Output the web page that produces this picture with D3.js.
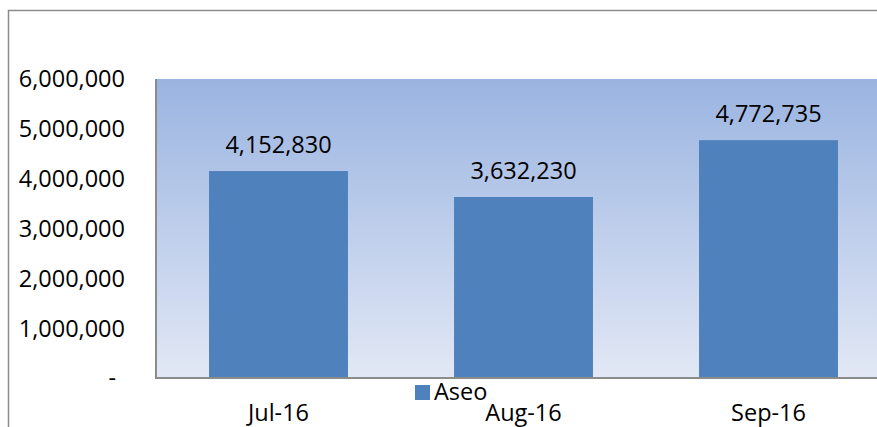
<!DOCTYPE html>
<html>
<head>
<meta charset="utf-8">
<script src="https://cdn.jsdelivr.net/npm/d3@7"></script>
<style>
  html,body{margin:0;padding:0;background:#fff;overflow:hidden;width:877px;height:427px}
  svg{display:block;position:absolute;left:0;top:0}
  text{font-family:"Open Sans",sans-serif;fill:#000}
</style>
</head>
<body>
<script>
// data
const months = ['Jul-16','Aug-16','Sep-16'];
const aseo   = [4152830, 3632230, 4772735];
const yTicks = [0,1000000,2000000,3000000,4000000,5000000,6000000];
const seriesName = 'Aseo';

const W=877, H=427;
const plot={l:156, t:79, r:891, b:378};
const fmt=d3.format(',');

const svg=d3.select('body').append('svg').attr('width',W).attr('height',H);

// gradient fill of the plot area
const grad=svg.append('defs').append('linearGradient')
  .attr('id','bg').attr('gradientUnits','userSpaceOnUse')
  .attr('x1',0).attr('y1',plot.t).attr('x2',0).attr('y2',plot.b);
grad.append('stop').attr('offset','0%').attr('stop-color','#9ab4e1');
grad.append('stop').attr('offset','100%').attr('stop-color','#e2e8f5');

// outer chart frame: only top and left edges are visible (cropped picture)
svg.append('path').attr('d',`M${W},10.5H8.5V${H}`)
  .attr('fill','none').attr('stroke','#8c8c8c').attr('stroke-width',1.5);

const x=d3.scaleBand().domain(months).range([plot.l,plot.r])
  .paddingInner(0.433).paddingOuter(0.2165);
const y=d3.scaleLinear().domain([0,6000000]).range([plot.b,plot.t]);

svg.append('rect').attr('x',plot.l).attr('y',plot.t)
  .attr('width',W-plot.l).attr('height',plot.b-plot.t).attr('fill','url(#bg)');

// bars
svg.selectAll('rect.bar').data(aseo).join('rect').attr('class','bar')
  .attr('x',(d,i)=>x(months[i])).attr('y',d=>y(d))
  .attr('width',x.bandwidth()).attr('height',d=>y(0)-y(d))
  .attr('fill','#4f81bd');

// value labels
svg.selectAll('text.val').data(aseo).join('text').attr('class','val')
  .attr('x',(d,i)=>x(months[i])+x.bandwidth()/2).attr('y',d=>y(d)-18)
  .attr('text-anchor','middle').attr('font-size','23.5px').text(d=>fmt(d));

// axes lines
svg.append('line').attr('x1',plot.l).attr('x2',plot.l).attr('y1',plot.t).attr('y2',plot.b+1)
  .attr('stroke','#8c8c8c').attr('stroke-width',2);
svg.append('line').attr('x1',plot.l-1).attr('x2',W).attr('y1',plot.b).attr('y2',plot.b)
  .attr('stroke','#8c8c8c').attr('stroke-width',2);

// y tick labels
svg.selectAll('text.yt').data(yTicks).join('text').attr('class','yt')
  .attr('x',d=>d===0?116:125).attr('y',d=>y(d)).attr('dy','0.36em')
  .attr('text-anchor','end').attr('font-size','23.5px')
  .text(d=>d===0?'-':fmt(d));

// x tick labels
svg.selectAll('text.xt').data(months).join('text').attr('class','xt')
  .attr('x',d=>x(d)+x.bandwidth()/2).attr('y',421)
  .attr('text-anchor','middle').attr('font-size','23.5px').text(d=>d);

// legend
svg.append('rect').attr('x',415).attr('y',385).attr('width',15).attr('height',15).attr('fill','#4f81bd');
svg.append('text').attr('x',434).attr('y',400).attr('font-size','23.5px').text(seriesName);
</script>
</body>
</html>
